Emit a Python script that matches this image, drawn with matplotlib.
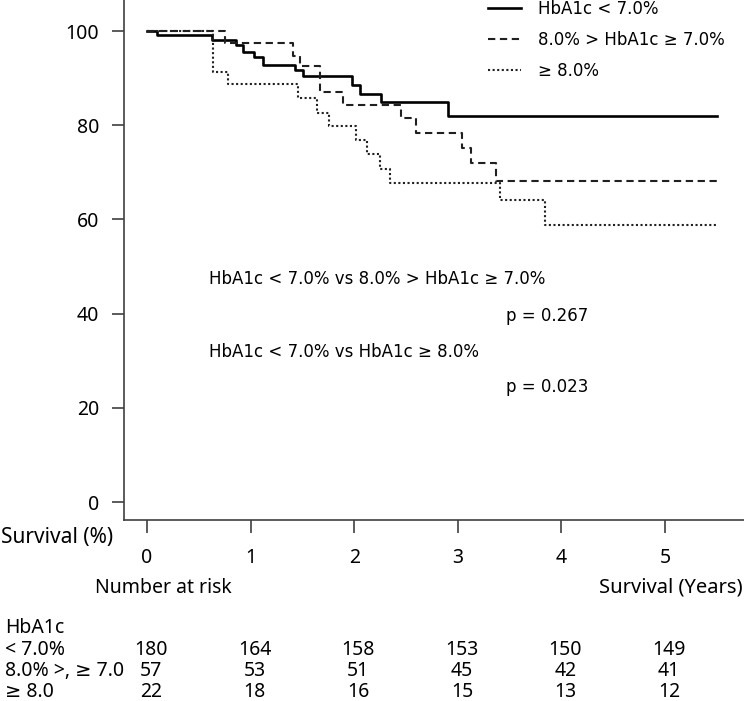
import matplotlib
matplotlib.use("Agg")
import matplotlib.pyplot as plt
import matplotlib.transforms as mtransforms

# Kaplan-Meier step data (years, survival %)
t_lt7 = [0, 0.10, 0.63, 0.86, 0.93, 1.03, 1.12, 1.43, 1.51, 1.98, 2.06, 2.26, 2.91, 5.5]
s_lt7 = [100, 99.1, 98.0, 97.0, 95.5, 94.5, 92.9, 91.8, 90.4, 88.6, 86.7, 85.0, 82.0, 82.0]

t_7to8 = [0, 0.75, 1.41, 1.48, 1.67, 1.895, 2.45, 2.60, 3.04, 3.13, 3.37, 5.5]
s_7to8 = [100, 97.5, 94.8, 92.5, 87.0, 84.4, 81.5, 78.3, 75.1, 72.0, 68.2, 68.2]

t_ge8 = [0, 0.64, 0.785, 1.455, 1.64, 1.76, 2.02, 2.12, 2.25, 2.35, 3.41, 3.84, 5.5]
s_ge8 = [100, 91.4, 88.7, 85.7, 82.7, 79.8, 76.9, 73.8, 70.7, 67.8, 64.1, 58.8, 58.8]

group_labels = ["HbA1c < 7.0%", "8.0% > HbA1c \u2265 7.0%", "\u2265 8.0%"]

# number at risk table
risk_years = [0, 1, 2, 3, 4, 5]
risk_rows = ["< 7.0%", "8.0% >, \u2265 7.0", "\u2265 8.0"]
risk_lt7 = [180, 164, 158, 153, 150, 149]
risk_7to8 = [57, 53, 51, 45, 42, 41]
risk_ge8 = [22, 18, 16, 15, 13, 12]

comparisons = ["HbA1c < 7.0% vs 8.0% > HbA1c \u2265 7.0%", "HbA1c < 7.0% vs HbA1c \u2265 8.0%"]
p_values = ["p = 0.267", "p = 0.023"]

plt.rcParams["font.family"] = ["DejaVu Sans"]
tab_font = ["Noto Sans", "DejaVu Sans"]   # ticks and risk table
tab_size = 14
axis_col = "#404040"
W, H = 744, 701

fig = plt.figure(figsize=(W / 100, H / 100), dpi=100)
ax = fig.add_axes([124 / W, 1 - 520 / H, 620 / W, 520 / H])

l1, = ax.step(t_lt7, s_lt7, where="post", color="black", lw=1.9, label=group_labels[0])
l2, = ax.step(t_7to8, s_7to8, where="post", color="#202020", lw=1.5,
              linestyle=(0, (3.5, 2.2)), label=group_labels[1])
l3, = ax.step(t_ge8, s_ge8, where="post", color="#202020", lw=1.5,
              linestyle=(0, (1, 1.2)), label=group_labels[2])

ax.set_xlim(-0.222, 5.763)
ax.set_ylim(-3.82, 106.6)
ax.set_xticks(risk_years)
ax.set_yticks([0, 20, 40, 60, 80, 100])

for side in ["top", "right"]:
    ax.spines[side].set_visible(False)
for side in ["left", "bottom"]:
    ax.spines[side].set_color(axis_col)
    ax.spines[side].set_linewidth(1.2)

ax.tick_params(axis="y", length=9, width=1.2, color=axis_col, pad=9, labelsize=tab_size)
ax.tick_params(axis="x", length=9, width=1.2, color=axis_col, pad=11, labelsize=tab_size)
for lab in ax.get_xticklabels() + ax.get_yticklabels():
    lab.set_family(tab_font)

# legend (top right, no frame)
fig.legend(handles=[l1, l2, l3], loc="upper left", bbox_to_anchor=(488 / W, 1.0),
           frameon=False, fontsize=12, handlelength=2.0, handletextpad=1.0,
           labelspacing=0.78, borderpad=0, borderaxespad=0)

# log-rank comparisons
for i, (txt, p) in enumerate(zip(comparisons, p_values)):
    y_txt = [47.3, 31.8][i]
    y_p = [39.5, 24.4][i]
    ax.text(0.60, y_txt, txt, fontsize=12, va="center", ha="left")
    ax.text(3.47, y_p, p, fontsize=12, va="center", ha="left")

fig.text(113 / W, 1 - 538 / H, "Survival (%)", fontsize=15, family=tab_font,
         ha="right", va="center")

# number at risk table under the x axis
trans = mtransforms.blended_transform_factory(ax.transData, fig.transFigure)
fig.text(95 / W, 1 - 588 / H, "Number at risk", fontsize=tab_size, family=tab_font,
         ha="left", va="center")
fig.text(743 / W, 1 - 588 / H, "Survival (Years)", fontsize=tab_size + 0.5, family=tab_font,
         ha="right", va="center")
fig.text(5 / W, 1 - 628 / H, "HbA1c", fontsize=tab_size, family=tab_font,
         ha="left", va="center")

row_y = [650, 671, 692]
for lab, counts, yy in zip(risk_rows, [risk_lt7, risk_7to8, risk_ge8], row_y):
    fig.text(5 / W, 1 - yy / H, lab, fontsize=tab_size, family=tab_font,
             ha="left", va="center")
    for x, n in zip(risk_years, counts):
        ax.text(x + 0.04, 1 - yy / H, str(n), transform=trans, fontsize=tab_size,
                family=tab_font, ha="center", va="center")

fig.savefig("out.png", dpi=100)
